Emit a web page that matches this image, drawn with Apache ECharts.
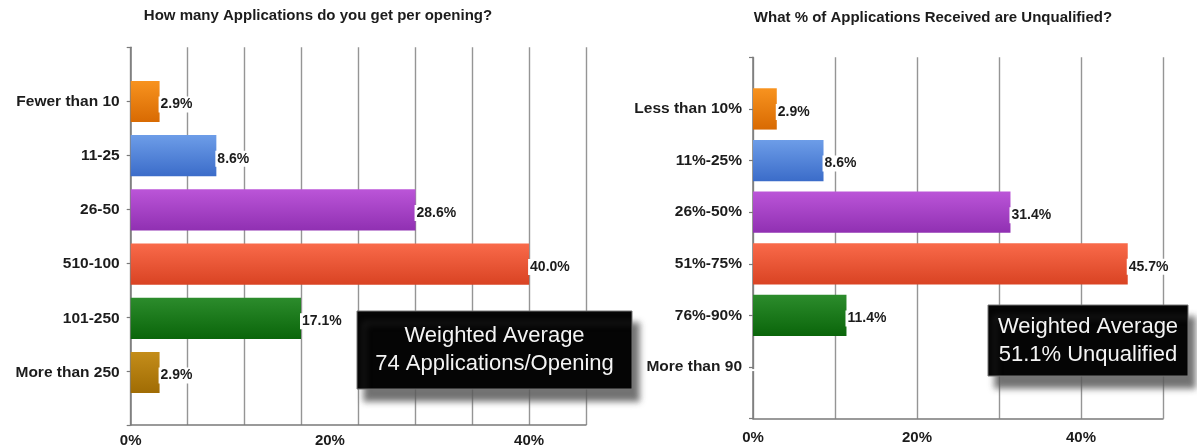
<!DOCTYPE html>
<html>
<head>
<meta charset="utf-8">
<script src="https://cdn.jsdelivr.net/npm/echarts@6/dist/echarts.min.js"></script>
<style>
html,body{margin:0;padding:0;background:#fff;}
#chart{width:1197px;height:448px;}
</style>
</head>
<body>
<div id="chart"></div>
<script>
// ---- Data ----
const leftTitle = 'How many Applications do you get per opening?';
const leftCategories = ['Fewer than 10', '11-25', '26-50', '510-100', '101-250', 'More than 250'];
const leftValues = [2.9, 8.6, 28.6, 40.0, 17.1, 2.9];
const leftAxisStep = 40 / 7;       // gridline every 2 of 35 responses
const leftAxisMax = 320 / 7;
const leftTickLabels = [0, 20, 40];
const leftNote = ['Weighted Average', '74 Applications/Opening'];

const rightTitle = 'What % of Applications Received are Unqualified?';
const rightCategories = ['Less than 10%', '11%-25%', '26%-50%', '51%-75%', '76%-90%', 'More than 90'];
const rightValues = [2.9, 8.6, 31.4, 45.7, 11.4, 0];
const rightAxisStep = 10;
const rightAxisMax = 50;
const rightTickLabels = [0, 20, 40];
const rightNote = ['Weighted Average', '51.1% Unqualified'];

const barColors = [
  ['#f8931f', '#d86a02'],
  ['#6d9de8', '#3b6cc9'],
  ['#bb55d8', '#9030b2'],
  ['#f96a4a', '#d94323'],
  ['#2c8c2c', '#0a650a'],
  ['#c48d1a', '#a06c04']
];

const chart = echarts.init(document.getElementById('chart'), null, {renderer: 'canvas'});

function grad(c) {
  return new echarts.graphic.LinearGradient(0, 0, 0, 1, [
    {offset: 0, color: c[0]}, {offset: 1, color: c[1]}
  ]);
}

function barData(values) {
  return values.map((v, i) => ({value: v, itemStyle: {color: grad(barColors[i])}}));
}

const axisColor = '#7a7a7a';
const gridColor = '#959595';
const fontFam = '"Liberation Sans", Arial, sans-serif';
const labelFont = {fontFamily: fontFam, fontWeight: 'bold', color: '#1c1c1c'};

function gridLineAxis(gridIndex, max, step) {
  return {
    type: 'value', gridIndex, min: 0, max, interval: step, position: 'bottom',
    axisLine: {show: true, onZero: false, lineStyle: {color: axisColor, width: 1.5}},
    axisTick: {show: false}, axisLabel: {show: false},
    splitLine: {show: true, lineStyle: {color: gridColor, width: 1.4}}
  };
}
function labelAxis(gridIndex, max, labels, margin) {
  return {
    type: 'value', gridIndex, min: 0, max, interval: 20, position: 'bottom',
    axisLine: {show: false, onZero: false}, axisTick: {show: false}, splitLine: {show: false},
    axisLabel: Object.assign({
      show: true, fontSize: 15, margin,
      formatter: v => labels.some(l => Math.abs(l - v) < 1e-6) ? v + '%' : ''
    }, labelFont)
  };
}
function hiddenX(gridIndex, max) {
  return {type: 'value', gridIndex, min: 0, max, show: false};
}
function frameY(gridIndex) {
  return {
    type: 'value', gridIndex, min: 0, max: 7, interval: 1, inverse: true,
    axisLine: {show: true, onZero: false, lineStyle: {color: axisColor, width: 1.5}},
    axisTick: {show: true, length: 4, lineStyle: {color: axisColor, width: 1.2}},
    axisLabel: {show: false}, splitLine: {show: false}
  };
}
function catY(gridIndex, cats) {
  return {
    type: 'category', gridIndex, data: cats, inverse: true,
    axisLine: {show: false}, axisTick: {show: false}, splitLine: {show: false},
    axisLabel: Object.assign({fontSize: 15.5, margin: 11}, labelFont)
  };
}
function barSeries(xi, yi, values, gap) {
  return {
    type: 'bar', xAxisIndex: xi, yAxisIndex: yi, data: barData(values),
    barCategoryGap: gap, silent: true,
    label: Object.assign({
      show: true, position: 'right', distance: -1, fontSize: 14, offset: [0, 3],
      backgroundColor: '#ffffff', padding: [1, 1, 1, 2],
      formatter: p => p.value ? p.value.toFixed(1) + '%' : ''
    }, labelFont)
  };
}

function noteBox(x, y, w, h, lines) {
  return {
    type: 'group', x, y, z: 100, children: [
      {type: 'rect', z: 100, shape: {x: 0, y: 0, width: w, height: h},
       style: {fill: '#050505', stroke: '#777', lineWidth: 1,
               shadowBlur: 6, shadowColor: 'rgba(90,90,90,0.85)', shadowOffsetX: 7, shadowOffsetY: 12}},
      {type: 'text', z: 101, x: w / 2, y: h / 2,
       style: {text: lines.join('\n'), fill: '#f4f4f4', align: 'center', verticalAlign: 'middle',
               font: '22px ' + fontFam, lineHeight: 28}}
    ]
  };
}

const option = {
  backgroundColor: '#ffffff',
  animation: false,
  grid: [
    {left: 130.7, right: 611, top: 47.3, bottom: 21.3},
    {left: 130.7, right: 611, top: 74.4, bottom: 48.4},
    {left: 753, right: 34, top: 57.3, bottom: 29.3},
    {left: 753, right: 34, top: 83.1, bottom: 55.1}
  ],
  xAxis: [
    gridLineAxis(0, leftAxisMax, leftAxisStep),
    labelAxis(0, leftAxisMax, leftTickLabels, 8),
    hiddenX(1, leftAxisMax),
    gridLineAxis(2, rightAxisMax, rightAxisStep),
    labelAxis(2, rightAxisMax, rightTickLabels, 12),
    hiddenX(3, rightAxisMax)
  ],
  yAxis: [
    frameY(0),
    catY(1, leftCategories),
    frameY(2),
    catY(3, rightCategories)
  ],
  series: [
    barSeries(2, 1, leftValues, '24%'),
    barSeries(5, 3, rightValues, '20%')
  ],
  graphic: [
    {type: 'text', x: 318, y: 16, style: {text: leftTitle, align: 'center', verticalAlign: 'middle',
      font: 'bold 15px ' + fontFam, fill: '#1c1c1c'}},
    {type: 'text', x: 933, y: 18, style: {text: rightTitle, align: 'center', verticalAlign: 'middle',
      font: 'bold 15px ' + fontFam, fill: '#1c1c1c'}},
    noteBox(357, 311, 275, 78, leftNote),
    noteBox(988, 305, 200, 71, rightNote)
  ]
};
chart.setOption(option);
</script>
</body>
</html>
